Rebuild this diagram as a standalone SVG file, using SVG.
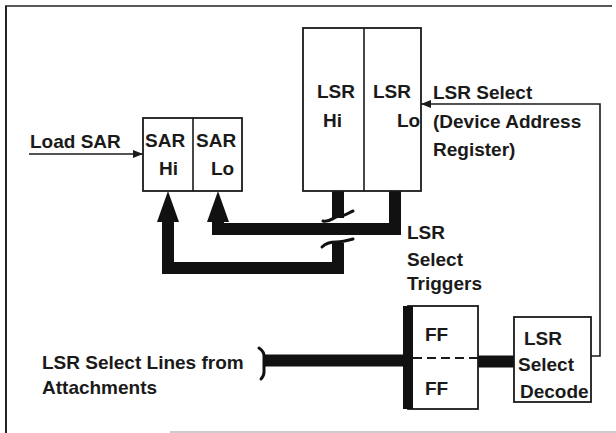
<svg xmlns="http://www.w3.org/2000/svg" width="616" height="433" viewBox="0 0 616 433">
<defs>
<style>
text{font-family:"Liberation Sans",Arial,sans-serif;font-size:19px;font-weight:bold;fill:#1a1a1a}
.box{fill:#fff;stroke:#1a1a1a;stroke-width:1.8}
.thin{fill:none;stroke:#1a1a1a;stroke-width:1.6}
.bus{fill:none;stroke:#111;stroke-width:12;stroke-linejoin:miter}
.brk{fill:none;stroke:#111;stroke-width:3;stroke-linecap:round}
</style>
<marker id="ah" viewBox="0 0 10 8" refX="10" refY="4" markerWidth="10" markerHeight="8" markerUnits="userSpaceOnUse" orient="auto">
<path d="M0,0 L10,4 L0,8 Z" fill="#1a1a1a"/>
</marker>
</defs>
<rect width="616" height="433" fill="#fff"/>
<g id="frame">
<line x1="5" y1="6" x2="612" y2="6" stroke="#222" stroke-width="1.6"/>
<line x1="6" y1="6" x2="6" y2="433" stroke="#222" stroke-width="2"/>
<line x1="170" y1="432" x2="616" y2="432" stroke="#999" stroke-width="1"/>
</g>
<g id="connectors">
<line class="thin" x1="29" y1="154" x2="143" y2="154" marker-end="url(#ah)"/>
<polyline class="thin" points="591,356 600,356 600,104 421,104" marker-end="url(#ah)"/>
<path class="bus" d="M338,191 V218"/>
<path class="brk" d="M323,221 C330,223 334,216 340,216 C345,216 348,213 353,211"/>
<path class="brk" d="M322,247 C326,243 330,242 336,242 C342,242 346,241 353,239"/>
<path class="bus" d="M338,243 V268 H168 V220"/>
<polygon points="157,222 179,222 168,191" fill="#111"/>
<path class="bus" d="M395,191 V229 H218 V220"/>
<polygon points="207,222 229,222 218,191" fill="#111"/>
<path class="bus" d="M264,360.5 H403"/>
<path class="brk" d="M259,348 Q265,352 264,358 L264,372 Q264,376 261,379" stroke-width="2"/>
<path class="bus" d="M478,361.5 H514" stroke-width="13"/>
</g>
<g id="load-sar-label"><text x="30" y="148">Load SAR</text></g>
<g id="sar">
<rect class="box" x="143" y="118" width="99" height="73"/>
<line class="thin" x1="193" y1="118" x2="193" y2="191"/>
<text x="145" y="147">SAR</text>
<text x="159" y="175">Hi</text>
<text x="196" y="147">SAR</text>
<text x="211" y="175">Lo</text>
</g>
<g id="lsr">
<rect class="box" x="303" y="28" width="118" height="163"/>
<line class="thin" x1="364" y1="28" x2="364" y2="191"/>
<text x="317" y="98">LSR</text>
<text x="323" y="127">Hi</text>
<text x="373" y="98">LSR</text>
<text x="397" y="127">Lo</text>
</g>
<g id="lsr-select-label">
<text x="433" y="99">LSR Select</text>
<text x="433" y="128">(Device Address</text>
<text x="433" y="156">Register)</text>
</g>
<g id="triggers-label">
<text x="407" y="239">LSR</text>
<text x="407" y="266">Select</text>
<text x="407" y="290">Triggers</text>
</g>
<g id="ff">
<rect class="box" x="408" y="306" width="70" height="103"/>
<rect x="403" y="306" width="10" height="103" fill="#111"/>
<line x1="413" y1="358" x2="478" y2="358" stroke="#1a1a1a" stroke-width="1.8" stroke-dasharray="9,5"/>
<text x="425" y="341">FF</text>
<text x="425" y="395">FF</text>
</g>
<g id="decode">
<rect class="box" x="514" y="317" width="77" height="85"/>
<text x="524" y="345">LSR</text>
<text x="518" y="371">Select</text>
<text x="520" y="398">Decode</text>
</g>
<g id="lines-label">
<text x="42" y="369">LSR Select Lines from</text>
<text x="42" y="394">Attachments</text>
</g>
</svg>
